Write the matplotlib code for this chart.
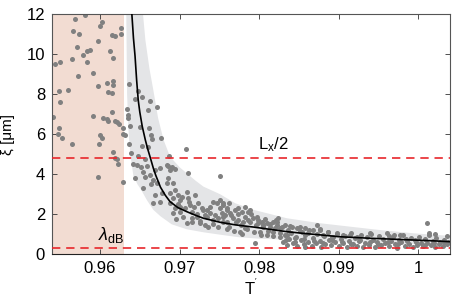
import numpy as np
import matplotlib
matplotlib.use('Agg')
import matplotlib.pyplot as plt

plt.rcParams['font.family'] = ['Liberation Sans', 'DejaVu Sans']
plt.rcParams['mathtext.fontset'] = 'custom'
plt.rcParams['mathtext.rm'] = 'Liberation Sans'
plt.rcParams['mathtext.it'] = 'Liberation Sans:italic'

pts_peach = [(0.95686, 11.75), (0.95811, 11.93), (0.9600, 11.4), (0.9602, 11.58), (0.9626, 11.3),
             (0.9626, 11.0), (0.9615, 10.93), (0.9619, 10.88), (0.95657, 11.13), (0.95736, 11.0),
             (0.95971, 10.63), (0.95707, 10.35), (0.95874, 10.2), (0.9584, 10.13), (0.9579, 9.97),
             (0.96126, 10.13), (0.95644, 9.75), (0.9583, 9.63), (0.96168, 9.8), (0.95434, 9.5),
             (0.95497, 9.6), (0.95727, 8.92), (0.95916, 9.05), (0.95979, 8.43), (0.96084, 8.55),
             (0.9616, 8.68), (0.96168, 8.47), (0.96105, 8.13), (0.96147, 8.05), (0.95484, 8.17),
             (0.95601, 8.22), (0.95497, 7.63), (0.96147, 7.1), (0.95916, 6.92), (0.95405, 6.88),
             (0.96034, 6.8), (0.96092, 6.77), (0.96097, 6.68), (0.96189, 6.67), (0.96218, 6.63),
             (0.9624, 6.52), (0.95488, 6.33), (0.95476, 6.0), (0.95518, 5.8), (0.96293, 6.02),
             (0.9600, 5.97), (0.9602, 5.8), (0.95644, 5.52), (0.95992, 5.52), (0.9616, 5.13),
             (0.96189, 4.8), (0.96218, 4.75), (0.9623, 4.52), (0.95971, 3.88), (0.96285, 3.6),
             (0.96285, 6.33), (0.96314, 5.96)]

pts_steep = [(0.96365, 8.51), (0.96482, 8.18), (0.9644, 7.77), (0.96524, 7.85), (0.96629, 7.68),
             (0.96713, 7.38), (0.96608, 7.21), (0.96344, 7.26), (0.96356, 6.8), (0.96377, 6.41),
             (0.96503, 6.35), (0.96621, 6.33), (0.96642, 5.96), (0.9665, 5.76), (0.96767, 5.8),
             (0.96365, 5.5), (0.96524, 5.43), (0.96608, 5.38), (0.97078, 5.25), (0.96356, 6.95),
             (0.96386, 5.05), (0.96482, 4.92), (0.96566, 4.77), (0.96872, 4.92), (0.96419, 4.52),
             (0.96461, 4.47), (0.96512, 4.35), (0.96587, 4.42), (0.96755, 4.3), (0.96847, 4.47),
             (0.96902, 4.35), (0.96943, 4.25), (0.96537, 4.13), (0.9644, 3.8), (0.96566, 3.88),
             (0.96629, 3.97), (0.96671, 3.72), (0.96637, 3.52), (0.96713, 3.55), (0.96545, 3.3),
             (0.9669, 4.22), (0.96859, 4.42), (0.9688, 4.22), (0.96859, 3.8), (0.96922, 3.55),
             (0.96839, 3.55), (0.97111, 4.08), (0.97509, 3.92), (0.9669, 2.97), (0.96776, 3.05),
             (0.96755, 2.63), (0.96671, 2.55), (0.9688, 3.05), (0.96943, 3.22), (0.96985, 2.97),
             (0.97027, 2.88), (0.97091, 3.13), (0.97111, 2.8), (0.97195, 2.97), (0.9688, 2.55),
             (0.96943, 2.3), (0.97006, 2.38), (0.97069, 2.3), (0.97132, 2.47), (0.97153, 2.13),
             (0.97237, 2.55), (0.97279, 2.3), (0.97321, 1.97), (0.97342, 2.22), (0.97384, 2.38),
             (0.97425, 2.63), (0.97467, 2.55), (0.97509, 2.3), (0.97551, 2.47), (0.97593, 2.22),
             (0.97509, 2.72), (0.97216, 1.88), (0.97153, 1.63), (0.97091, 1.55), (0.97258, 1.55),
             (0.97362, 1.38), (0.97425, 1.72), (0.97488, 1.8), (0.97551, 1.88), (0.97593, 1.63),
             (0.97006, 2.72), (0.96922, 2.8), (0.9692, 2.05), (0.9695, 1.75), (0.9698, 2.5),
             (0.9701, 2.1), (0.9704, 1.85), (0.9712, 2.6), (0.9715, 1.8), (0.9718, 2.35),
             (0.9722, 2.0), (0.9726, 1.65), (0.9729, 2.2), (0.9732, 1.45), (0.9735, 1.85),
             (0.9738, 2.05), (0.9742, 1.5), (0.9745, 1.95), (0.9748, 1.35), (0.9754, 1.6),
             (0.9757, 1.95), (0.9760, 1.25)]

pts_mid = [(0.97626, 2.58), (0.97551, 2.55), (0.97593, 2.3), (0.9753, 2.05), (0.97635, 2.05),
           (0.97698, 2.22), (0.9774, 2.3), (0.97782, 2.13), (0.97824, 2.38), (0.97865, 2.13),
           (0.97887, 2.22), (0.97677, 1.8), (0.9774, 1.72), (0.97803, 1.63), (0.97865, 1.72),
           (0.97928, 1.8), (0.9797, 1.88), (0.97991, 1.55), (0.98033, 1.63), (0.98054, 1.47),
           (0.98096, 1.55), (0.98138, 1.38), (0.9818, 1.63), (0.98221, 1.47), (0.98264, 1.3),
           (0.98327, 1.47), (0.98369, 1.22), (0.9841, 1.38), (0.98473, 1.3), (0.98536, 1.13),
           (0.98579, 1.3), (0.9862, 1.05), (0.98683, 1.22), (0.98767, 1.22), (0.98809, 0.97),
           (0.98872, 1.13), (0.98914, 0.88), (0.98976, 1.05), (0.9795, 0.55), (0.98579, 0.35),
           (0.97824, 1.3), (0.97761, 1.13), (0.98013, 1.13), (0.98096, 0.97), (0.9818, 1.13),
           (0.98264, 0.88), (0.98348, 0.97), (0.98453, 0.8), (0.98242, 1.8), (0.9821, 1.72),
           (0.98516, 1.38), (0.98725, 1.47), (0.98767, 1.25), (0.9839, 1.42),
           (0.9762, 1.35), (0.9765, 1.95), (0.9768, 1.15), (0.9771, 1.6), (0.9774, 2.0),
           (0.9777, 1.45), (0.9779, 1.0), (0.9782, 1.85), (0.9785, 1.25), (0.9788, 1.6),
           (0.9790, 2.0), (0.9793, 1.1), (0.9796, 1.45), (0.9799, 1.7), (0.9802, 0.95),
           (0.9805, 1.35), (0.9808, 1.75), (0.9811, 1.15), (0.9814, 1.5), (0.9817, 0.9),
           (0.9820, 1.3), (0.9823, 1.6), (0.9826, 1.05), (0.9829, 1.35)]

pts_tail = [(0.9830, 0.62), (0.9832, 0.95), (0.9835, 0.45), (0.9838, 0.78), (0.9840, 1.05),
            (0.9843, 0.55), (0.9846, 0.88), (0.9848, 0.40), (0.9851, 1.15), (0.9853, 0.70),
            (0.9856, 0.50), (0.9858, 0.95), (0.9861, 0.60), (0.9863, 1.20), (0.9866, 0.42),
            (0.9868, 0.80), (0.9871, 0.55), (0.9873, 1.02), (0.9876, 0.68), (0.9878, 0.38),
            (0.9881, 0.90), (0.9883, 0.52), (0.9886, 1.10), (0.9888, 0.72), (0.9891, 0.45),
            (0.9893, 0.85), (0.9896, 0.60), (0.9898, 1.00), (0.9901, 0.40), (0.9903, 0.75),
            (0.9906, 0.55), (0.9908, 0.92), (0.9911, 0.35), (0.9913, 0.68), (0.9916, 1.08),
            (0.9918, 0.50), (0.9921, 0.82), (0.9923, 0.42), (0.9926, 0.65), (0.9928, 0.95),
            (0.9931, 0.38), (0.9933, 0.58), (0.9936, 0.85), (0.9938, 0.48), (0.9941, 1.00),
            (0.9943, 0.70), (0.9946, 0.36), (0.9948, 0.62), (0.9951, 0.90), (0.9953, 0.45),
            (0.9956, 0.75), (0.9958, 0.55), (0.9961, 1.05), (0.9963, 0.40), (0.9966, 0.68),
            (0.9968, 0.88), (0.9971, 0.50), (0.9973, 0.33), (0.9976, 0.72), (0.9978, 0.60),
            (0.9981, 0.95), (0.9983, 0.42), (0.9986, 0.65), (0.9988, 0.52), (0.9991, 0.80),
            (0.9993, 0.38), (0.9996, 0.70), (0.9998, 0.48), (1.0001, 0.85), (1.0003, 0.58),
            (1.0006, 0.40), (1.0008, 0.75), (1.0011, 0.55), (1.0013, 0.95), (1.0016, 0.45),
            (1.0018, 0.68), (1.0021, 0.36), (1.0023, 0.80), (1.0026, 0.52), (1.0028, 0.62),
            (1.0031, 0.42), (1.0033, 0.72), (1.0036, 0.50), (1.0038, 0.60),
            (0.9834, 0.70), (0.9845, 0.62), (0.9857, 0.78), (0.9869, 0.65), (0.9880, 0.58),
            (0.9892, 0.70), (0.9904, 0.62), (0.9915, 0.50), (0.9927, 0.72), (0.9939, 0.62),
            (0.9950, 0.52), (0.9962, 0.62), (0.9974, 0.50), (0.9985, 0.78), (0.9997, 0.60),
            (1.0009, 0.48), (1.0020, 0.58), (1.0032, 0.62),
            (1.00109, 1.55), (1.0013, 1.05), (1.00214, 1.02), (1.00359, 0.92), (0.99396, 1.05),
            (0.99627, 0.92), (0.99698, 0.97), (0.99774, 0.97), (0.9906, 0.97), (0.99145, 0.97),
            (0.99229, 0.88)]

# fitted curve
fit_T = [0.9640, 0.9642, 0.9644, 0.9646, 0.9648, 0.9650, 0.9653, 0.9657, 0.9660, 0.9663, 0.9667,
         0.9670, 0.9676, 0.9682, 0.9688, 0.9698, 0.9709, 0.9720, 0.9730, 0.9751, 0.9770, 0.9793,
         0.9815, 0.9835, 0.9857, 0.9877, 0.9900, 0.9920, 0.9940, 0.9965, 0.9990, 1.0015, 1.0040]
fit_xi = [12.0, 10.8, 9.9, 8.7, 7.7, 7.1, 6.4, 5.7, 5.25, 4.85, 4.3, 3.95, 3.35, 2.95, 2.63,
          2.33, 2.13, 1.95, 1.8, 1.6, 1.47, 1.36, 1.24, 1.13, 1.04, 0.97, 0.88, 0.84, 0.80,
          0.76, 0.72, 0.68, 0.63]

# confidence band
band_up_T = [0.9654, 0.9657, 0.9662, 0.9667, 0.9673, 0.9680, 0.9688, 0.9700, 0.9709, 0.9720,
             0.9730, 0.9751, 0.9770, 0.9793, 0.9835, 0.9877, 0.9910, 0.9950, 0.9994, 1.0040]
band_up_xi = [12.0, 10.7, 9.3, 8.2, 6.8, 5.7, 4.88, 4.35, 4.05, 3.68, 3.38, 3.0, 2.55, 2.22,
              1.8, 1.55, 1.4, 1.22, 1.05, 0.92]
band_lo_T = [0.9633, 0.9634, 0.9636, 0.9638, 0.9642, 0.9647, 0.9652, 0.9659, 0.9667, 0.9676,
             0.9690, 0.9709, 0.9730, 0.9751, 0.9775, 0.9800, 0.9840, 0.9900, 0.9950, 1.0040]
band_lo_xi = [12.0, 8.0, 6.0, 5.0, 3.9, 3.5, 3.2, 2.7, 2.22, 1.9, 1.5, 1.25, 1.1, 0.98, 0.85,
              0.78, 0.72, 0.63, 0.56, 0.47]

T_cut = 0.963
Lx_half = 4.8
lam_dB = 0.33

xticks = [0.96, 0.97, 0.98, 0.99, 1.0]
xticklabels = ['0.96', '0.97', '0.98', '0.99', '1']
yticks = [0, 2, 4, 6, 8, 10, 12]

fig = plt.figure(figsize=(4.57, 2.99), dpi=100)
ax = fig.add_axes([0.1138, 0.1495, 0.8709, 0.8035])

ax.axvspan(0.9, T_cut, color='#f2dcd2', lw=0, zorder=0)
ax.fill(band_up_T + band_lo_T[::-1], band_up_xi + band_lo_xi[::-1], color='#e4e5e7', lw=0, zorder=1)

allpts = pts_peach + pts_steep + pts_mid + pts_tail
px = [p[0] for p in allpts]
py = [p[1] for p in allpts]
ax.scatter(px, py, s=13, color='#808080', lw=0, zorder=2)

ax.plot(fit_T, fit_xi, color='black', lw=1.2, zorder=3)

ax.axhline(Lx_half, color='#e8262b', ls=(0, (5, 3.5)), lw=1.2, zorder=4)
ax.axhline(lam_dB, color='#e8262b', ls=(0, (5, 3.5)), lw=1.2, zorder=4)

ax.text(0.9799, 5.0, r'L$_{\mathrm{x}}$/2', fontsize=12, ha='left', va='bottom')
ax.text(0.9598, 0.45, r'$\lambda_{\mathrm{dB}}$', fontsize=13, ha='left', va='bottom')

ax.set_xlim(0.95396, 1.0040)
ax.set_ylim(0, 12)
ax.set_xticks(xticks)
ax.set_xticklabels(xticklabels)
ax.set_yticks(yticks)
ax.tick_params(direction='in', length=3.5, width=0.6, labelsize=12, top=True, right=True,
               colors='#333333', labelcolor='black', pad=5)
for s in ax.spines.values():
    s.set_color('#555555')
    s.set_linewidth(0.8)
ax.spines['bottom'].set_color('#222222')

ax.set_xlabel(r"T$^{'}$", fontsize=12, labelpad=1)
ax.set_ylabel(u'\u03be [\u03bcm]', fontsize=11, labelpad=8)

fig.savefig('out.png', dpi=100)
